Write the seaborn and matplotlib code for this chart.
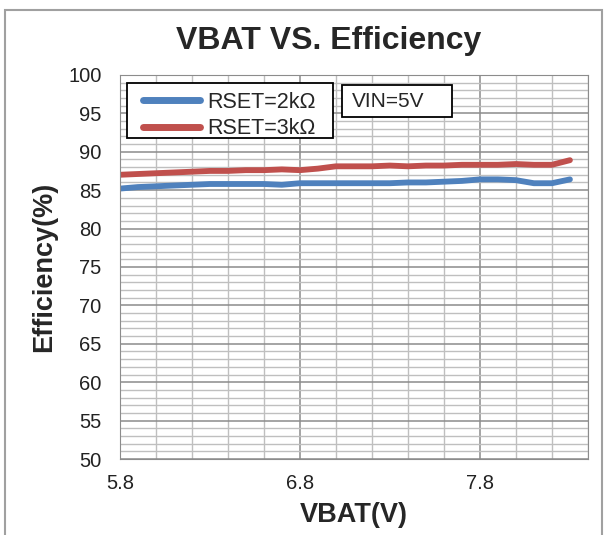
import matplotlib
matplotlib.use("Agg")
import matplotlib.pyplot as plt
import matplotlib.patches as patches
from matplotlib.ticker import MultipleLocator
import pandas as pd
import seaborn as sns

# data
vbat = [5.8, 5.9, 6.0, 6.1, 6.2, 6.3, 6.4, 6.5, 6.6, 6.7, 6.8, 6.9, 7.0,
        7.1, 7.2, 7.3, 7.4, 7.5, 7.6, 7.7, 7.8, 7.9, 8.0, 8.1, 8.2, 8.3]
eff_2k = [85.2, 85.4, 85.5, 85.6, 85.7, 85.8, 85.8, 85.8, 85.8, 85.7, 85.9, 85.9, 85.9,
          85.9, 85.9, 85.9, 86.0, 86.0, 86.1, 86.2, 86.4, 86.4, 86.3, 85.9, 85.9, 86.4]
eff_3k = [87.0, 87.1, 87.2, 87.3, 87.4, 87.5, 87.5, 87.6, 87.6, 87.7, 87.6, 87.8, 88.1,
          88.1, 88.1, 88.2, 88.1, 88.2, 88.2, 88.3, 88.3, 88.3, 88.4, 88.3, 88.3, 88.9]
labels = ["RSET=2kΩ", "RSET=3kΩ"]
colors = ["#4F81BD", "#C0504D"]

df = pd.concat([
    pd.DataFrame({"VBAT": vbat, "Eff": eff_2k, "RSET": labels[0]}),
    pd.DataFrame({"VBAT": vbat, "Eff": eff_3k, "RSET": labels[1]}),
])

sns.set_style("white")
plt.rcParams["font.family"] = ["Liberation Sans", "DejaVu Sans"]

fig = plt.figure(figsize=(6.08, 5.35), dpi=100)
ax = fig.add_axes([0.197, 0.142, 0.770, 0.718])

sns.lineplot(data=df, x="VBAT", y="Eff", hue="RSET", palette=colors,
             linewidth=4.2, ax=ax)

ax.set_xlim(5.8, 8.4)
ax.set_ylim(50, 100)
ax.xaxis.set_major_locator(MultipleLocator(1.0))
ax.xaxis.set_minor_locator(MultipleLocator(0.2))
ax.yaxis.set_major_locator(MultipleLocator(5))
ax.yaxis.set_minor_locator(MultipleLocator(1))
ax.set_xticks([5.8, 6.8, 7.8])
ax.set_xticklabels(["5.8", "6.8", "7.8"])
ax.grid(which="major", color="#8C8C8C", linewidth=1.1)
ax.grid(which="minor", color="#BFBFBF", linewidth=1.0)
ax.set_axisbelow(True)
for s in ax.spines.values():
    s.set_color("#8C8C8C")
ax.tick_params(axis="both", which="both", length=0, colors="#222222")
ax.tick_params(axis="x", labelsize=14.5, pad=11)
ax.tick_params(axis="y", labelsize=14.5, pad=13)

fig.text(329 / 608, 1 - 41 / 535, "VBAT VS. Efficiency", fontsize=23,
         fontweight="bold", ha="center", va="center")
ax.set_xlabel("VBAT(V)", fontsize=19.5, fontweight="bold", labelpad=6)
ax.set_ylabel("Efficiency(%)", fontsize=19.5, fontweight="bold", labelpad=8)

# legend without its own frame, boxed by a rectangle like the reference
sns.move_legend(ax, "upper left", bbox_to_anchor=(0.049, 0.956), title=None,
                frameon=False, fontsize=15.5, handlelength=2.65,
                borderpad=0, labelspacing=0.26, handletextpad=0.33,
                borderaxespad=0)
leg = ax.get_legend()
leg.set_zorder(6)
for h in leg.legend_handles:
    h.set_linewidth(5)
ax.add_patch(patches.Rectangle((0.015, 0.836), 0.440, 0.143, transform=ax.transAxes,
                               facecolor="white", edgecolor="black", linewidth=1.3,
                               zorder=5))

# VIN box
ax.add_patch(patches.Rectangle((0.474, 0.891), 0.235, 0.083, transform=ax.transAxes,
                               facecolor="white", edgecolor="black", linewidth=1.3,
                               zorder=5))
ax.text(0.496, 0.932, "VIN=5V", transform=ax.transAxes, fontsize=15,
        va="center", ha="left", zorder=6)

# outer frame of the figure
fig.patches.append(patches.Rectangle((5 / 608, -0.02), 597 / 608, 1 - 10 / 535 + 0.02,
                                     transform=fig.transFigure, fill=False,
                                     edgecolor="#A0A0A0", linewidth=1.5))

fig.savefig("out.png", dpi=100)
